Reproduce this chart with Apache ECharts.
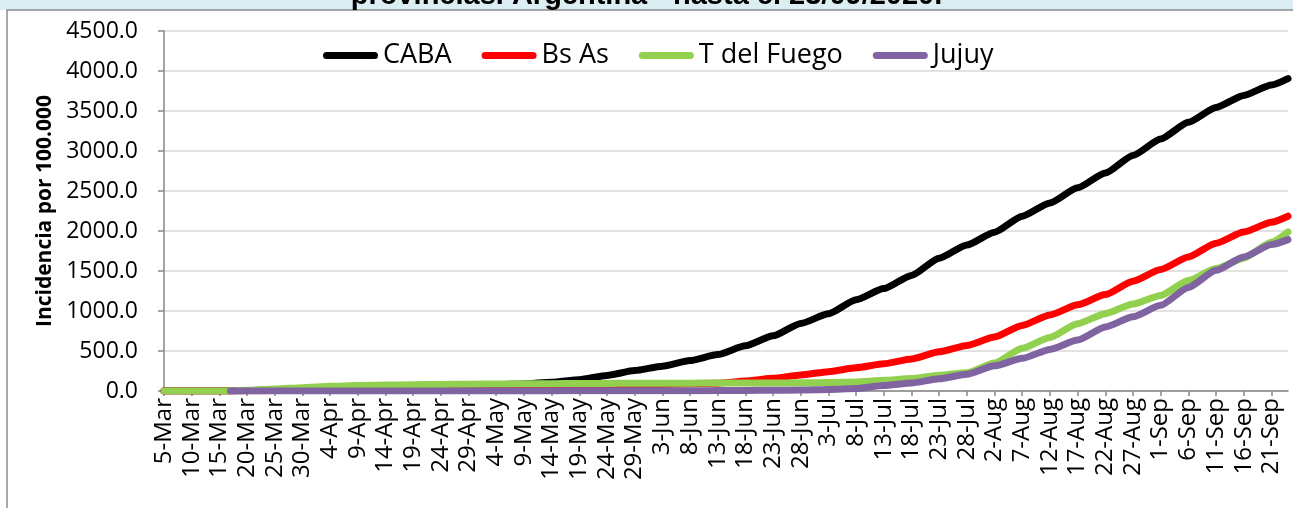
<!DOCTYPE html>
<html>
<head>
<meta charset="utf-8">
<script src="https://cdn.jsdelivr.net/npm/echarts@6/dist/echarts.min.js"></script>
<style>
  html, body { margin: 0; padding: 0; background: #fff; }
  #chart { width: 1293px; height: 508px; }
</style>
</head>
<body>
<div id="chart"></div>
<script>
// readings taken every 5 days (plus the last day)
const readDays = ['5-Mar', '10-Mar', '15-Mar', '20-Mar', '25-Mar', '30-Mar', '4-Apr', '9-Apr', '14-Apr', '19-Apr',
  '24-Apr', '29-Apr', '4-May', '9-May', '14-May', '19-May', '24-May', '29-May', '3-Jun', '8-Jun',
  '13-Jun', '18-Jun', '23-Jun', '28-Jun', '3-Jul', '8-Jul', '13-Jul', '18-Jul', '23-Jul', '28-Jul',
  '2-Aug', '7-Aug', '12-Aug', '17-Aug', '22-Aug', '27-Aug', '1-Sep', '6-Sep', '11-Sep', '16-Sep',
  '21-Sep', '24-Sep']

const caba = [0, 0.5, 1.5, 5, 12, 22, 32, 42, 50, 57,
  63, 70, 78, 88, 110, 142, 195, 255, 310, 380,
  455, 565, 690, 845, 965, 1140, 1280, 1445, 1660, 1825,
  1985, 2185, 2350, 2540, 2725, 2945, 3150, 3360, 3545, 3695,
  3825, 3905]

const bsAs = [0, 0, 0.5, 2, 5, 9, 14, 18, 22, 26,
  30, 34, 38, 43, 49, 56, 64, 73, 82, 92,
  97, 125, 160, 200, 242, 290, 340, 400, 490, 570,
  675, 820, 950, 1077, 1205, 1372, 1518, 1675, 1848, 1988,
  2110, 2185]

const tdFuego = [0, 0, 1, 8, 25, 42, 58, 68, 74, 78,
  82, 85, 88, 90, 92, 94, 95, 96, 97, 98,
  99, 100, 101, 102, 105, 112, 133, 155, 196, 228,
  350, 535, 670, 842, 967, 1088, 1195, 1380, 1530, 1660,
  1860, 1988]

// Jujuy starts on 17-Mar
const jujuyDays = ['17-Mar', '20-Mar', '25-Mar', '30-Mar', '4-Apr', '9-Apr', '14-Apr', '19-Apr',
  '24-Apr', '29-Apr', '4-May', '9-May', '14-May', '19-May', '24-May', '29-May', '3-Jun', '8-Jun',
  '13-Jun', '18-Jun', '23-Jun', '28-Jun', '3-Jul', '8-Jul', '13-Jul', '18-Jul', '23-Jul', '28-Jul',
  '2-Aug', '7-Aug', '12-Aug', '17-Aug', '22-Aug', '27-Aug', '1-Sep', '6-Sep', '11-Sep', '16-Sep',
  '21-Sep', '24-Sep']
const jujuy = [0, 0.3, 0.5, 0.7, 1, 1, 1, 1,
  1, 1, 1, 1.5, 1.5, 2, 2, 2.5, 3, 4,
  5, 7, 9, 12, 18, 30, 68, 100, 152, 210,
  315, 408, 520, 636, 800, 928, 1071, 1295, 1508, 1675,
  1830, 1892]

const yTicks = [0, 500, 1000, 1500, 2000, 2500, 3000, 3500, 4000, 4500]

// daily category axis 5-Mar .. 24-Sep 2020
const monthNames = ['Jan', 'Feb', 'Mar', 'Apr', 'May', 'Jun', 'Jul', 'Aug', 'Sep', 'Oct', 'Nov', 'Dec']
const days = []
for (let d = new Date(2020, 2, 5); d <= new Date(2020, 8, 24); d.setDate(d.getDate() + 1)) {
  days.push(d.getDate() + '-' + monthNames[d.getMonth()])
}

const pairs = (labels, vals) => labels.map((l, i) => [l, vals[i]])

const roundLine = 'path://M3.5,0 L51.5,0 A3.5,3.5 0 0 1 51.5,7 L3.5,7 A3.5,3.5 0 0 1 3.5,0 Z'
const font = 'Open Sans'

const mkSeries = (name, color, data) => ({
  name,
  type: 'line',
  data,
  showSymbol: false,
  smooth: 0.2,
  smoothMonotone: 'x',
  itemStyle: { color },
  lineStyle: { width: 7, color, cap: 'round', join: 'round' },
  emphasis: { disabled: true },
  animation: false
})

const myChart = echarts.init(document.getElementById('chart'))

myChart.setOption({
  animation: false,
  graphic: [
    { type: 'rect', shape: { x: 0, y: 0, width: 1293, height: 10 }, style: { fill: '#dbeef4' }, z: -10 },
    { type: 'rect', shape: { x: 7, y: 10, width: 1300, height: 520 }, style: { fill: 'none', stroke: '#8c8c8c', lineWidth: 1.5 }, z: -9 },
    {
      type: 'text', left: 'center', top: -19,
      style: { text: 'provincias. Argentina - hasta el 23/09/2020.', font: 'bold 29px "Liberation Sans"', fill: '#000' }
    }
  ],
  legend: {
    left: 318,
    top: 37,
    itemWidth: 55,
    itemHeight: 7,
    itemGap: 30,
    icon: roundLine,
    textStyle: { fontFamily: font, fontSize: 27, color: '#000' },
    data: ['CABA', 'Bs As', 'T del Fuego', 'Jujuy']
  },
  grid: { left: 164, right: 5, top: 31, bottom: 117 },
  xAxis: {
    type: 'category',
    data: days,
    boundaryGap: false,
    axisLine: { lineStyle: { color: '#868686', width: 1.5 } },
    axisTick: { interval: 4, length: 5, lineStyle: { color: '#868686', width: 1.5 } },
    axisLabel: { interval: 4, rotate: 90, margin: 7, fontFamily: font, fontSize: 24, color: '#000' },
    splitLine: { show: false }
  },
  yAxis: {
    type: 'value',
    min: yTicks[0],
    max: yTicks[yTicks.length - 1],
    interval: 500,
    name: 'Incidencia por 100.000',
    nameLocation: 'middle',
    nameGap: 108,
    nameTextStyle: { fontFamily: font, fontWeight: 'bold', fontSize: 21, color: '#000' },
    axisLine: { show: true, lineStyle: { color: '#868686', width: 1.5 } },
    axisTick: { show: true, length: 6, lineStyle: { color: '#868686', width: 1.5 } },
    axisLabel: { margin: 26, fontFamily: font, fontSize: 23, color: '#000', formatter: v => v.toFixed(1) },
    splitLine: { lineStyle: { color: '#d9d9d9', width: 1.5 } }
  },
  series: [
    mkSeries('CABA', '#000000', pairs(readDays, caba)),
    mkSeries('Bs As', '#ff0000', pairs(readDays, bsAs)),
    mkSeries('T del Fuego', '#92d050', pairs(readDays, tdFuego)),
    mkSeries('Jujuy', '#8064a2', pairs(jujuyDays, jujuy))
  ]
})

window.addEventListener('resize', () => {
  myChart.resize()
})
</script>
</body>
</html>
